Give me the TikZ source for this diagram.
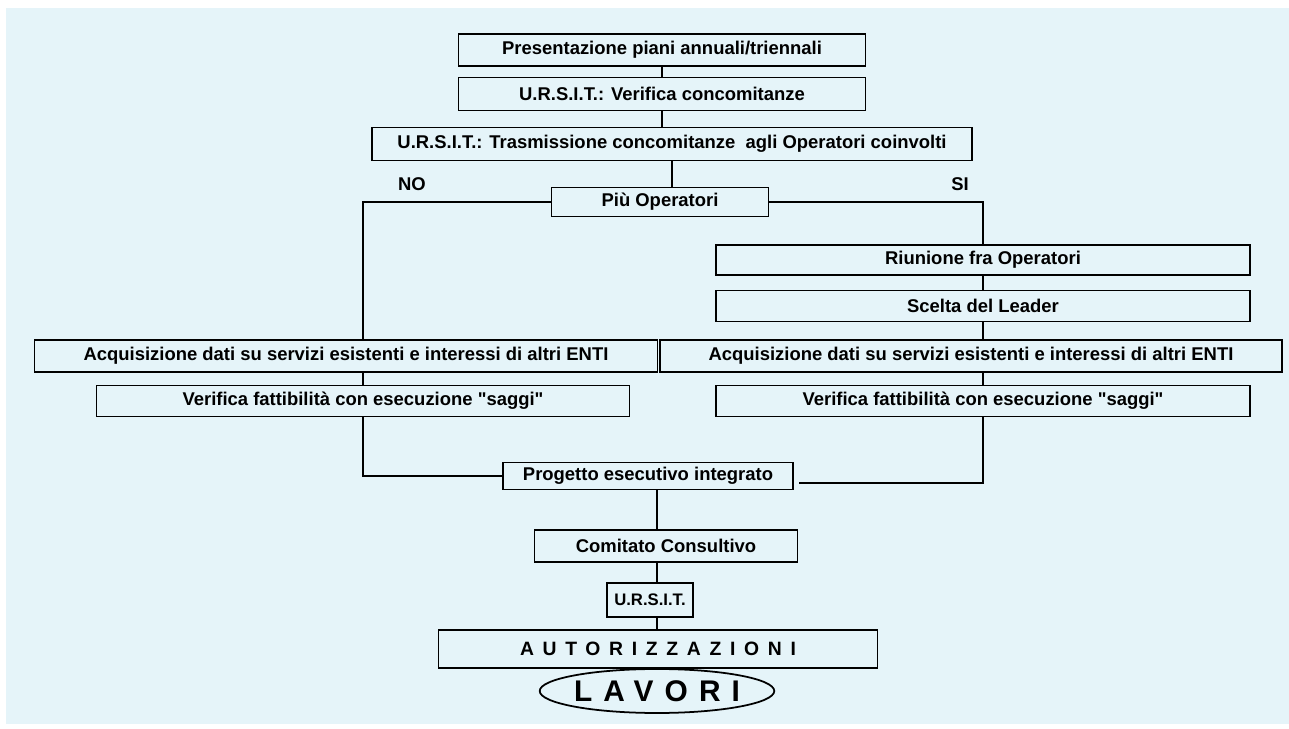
\documentclass[tikz,border=0pt]{standalone}
\usepackage{fontspec}
\setmainfont{Liberation Sans}[Ligatures=TeXOff]
\usepackage{tikz}
\usetikzlibrary{shapes.geometric, positioning, calc}
\definecolor{bgblue}{RGB}{229,244,249}

\begin{document}
\begin{tikzpicture}[
  x=0.02cm, y=-0.02cm,
  box/.style={rectangle, draw=black, line width=1pt, fill=bgblue,
              inner sep=0pt, text centered,
              font=\fontsize{10.5}{12}\selectfont\bfseries},
  bigtext/.style={font=\fontsize{11}{13}\selectfont\bfseries\addfontfeatures{LetterSpace=45}},
  tag/.style={font=\fontsize{10.5}{12}\selectfont\bfseries},
  link/.style={draw=black, line width=1pt},
]

% background
\fill[bgblue] (6,8) rectangle (1289,724);
\useasboundingbox (0,0) rectangle (1289,729);

% top chain
\node[box, minimum width=8.14cm, minimum height=0.64cm] (pres) at (662,50) {Presentazione piani annuali/triennali};
\node[box, minimum width=8.14cm, minimum height=0.66cm] (verif) at (662,94) {U.R.S.I.T.: Verifica concomitanze};
\node[box, minimum width=12cm, minimum height=0.66cm] (trasm) at (672,144) {U.R.S.I.T.: Trasmissione concomitanze \ agli Operatori coinvolti};
\node[box, minimum width=4.34cm, minimum height=0.58cm] (piu) at (660,202) {Più Operatori};

\node[tag] (no) at (412,184) {NO};
\node[tag] (si) at (960,184) {SI};

% ramo SI
\node[box, minimum width=10.68cm, minimum height=0.6cm] (riun) at (983,260) {Riunione fra Operatori};
\node[box, minimum width=10.68cm, minimum height=0.62cm] (leader) at (983,306) {Scelta del Leader};
\node[box, minimum width=12.44cm, minimum height=0.64cm] (acqR) at (971,356) {Acquisizione dati su servizi esistenti e interessi di altri ENTI};
\node[box, minimum width=10.68cm, minimum height=0.62cm] (saggiR) at (983,401) {Verifica fattibilità con esecuzione "saggi"};

% ramo NO
\node[box, minimum width=12.46cm, minimum height=0.64cm] (acqL) at (346,356) {Acquisizione dati su servizi esistenti e interessi di altri ENTI};
\node[box, minimum width=10.66cm, minimum height=0.62cm] (saggiL) at (363,401) {Verifica fattibilità con esecuzione "saggi"};

% bottom chain
\node[box, minimum width=5.8cm, minimum height=0.54cm] (prog) at (648,476) {Progetto esecutivo integrato};
\node[box, minimum width=5.26cm, minimum height=0.64cm] (comit) at (666,546) {Comitato Consultivo};
\node[box, minimum width=1.72cm, minimum height=0.68cm, font=\fontsize{9.5}{11}\selectfont\bfseries] (ursit) at (650,600) {U.R.S.I.T.};
\node[box, bigtext, minimum width=8.78cm, minimum height=0.76cm] (aut) at (658,649) {AUTORIZZAZIONI};
\node[ellipse, draw=black, line width=1pt, fill=bgblue, minimum width=4.56cm, minimum height=0.88cm,
      inner sep=0pt, font=\fontsize{17}{20}\selectfont\bfseries\addfontfeatures{LetterSpace=37}] (lav) at (657,691) {LAVORI};

\coordinate (endR) at (799,483);

% connectors
\draw[link] (pres) -- (verif);
\draw[link] (verif.south -| pres) -- (trasm.north -| pres);
\draw[link] (trasm) -- (trasm |- piu.north);
\draw[link] (piu.west) -| (acqL.north -| saggiL);
\draw[link] (piu.east) -| (riun.north);
\draw[link] (riun) -- (leader);
\draw[link] (leader) -- (leader |- acqR.north);
\draw[link] (leader |- acqR.south) -- (saggiR);
\draw[link] (saggiL |- acqL.south) -- (saggiL);
\draw[link] (saggiL) |- (prog.west);
\draw[link] (saggiR) |- (endR);
\draw[link] (prog.south -| lav) -- (comit.north -| lav);
\draw[link] (comit.south -| lav) -- (ursit.north -| lav);
\draw[link] (ursit.south -| lav) -- (aut.north -| lav);
\draw[link] (aut.south -| lav) -- (lav);

\end{tikzpicture}
\end{document}
